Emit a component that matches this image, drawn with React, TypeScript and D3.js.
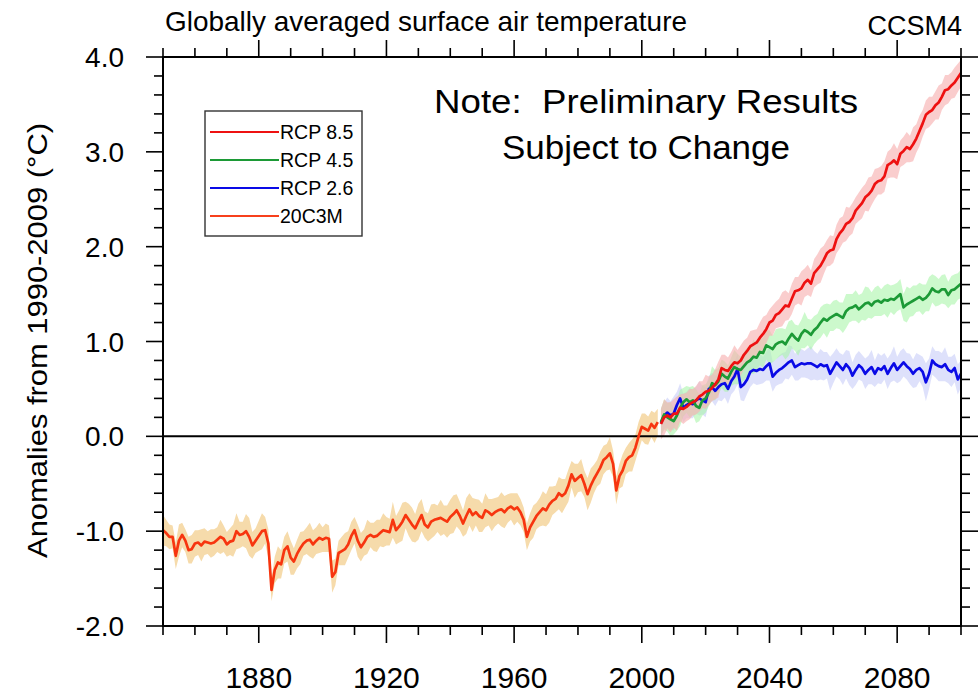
import React from "react";
import * as d3 from "d3";

const W = 980;
const H = 693;
const FONT = "'Liberation Sans', Arial, Helvetica, sans-serif";

// ---- data -------------------------------------------------------------
const histStart = 1850;
const hist20C3M = [
  -0.99, -1.02, -1.06, -1.06, -1.26, -1.1, -1.04, -1.1, -1.2, -1.19,
  -1.13, -1.12, -1.15, -1.11, -1.12, -1.13, -1.12, -1.09, -1.06, -1.08,
  -1.14, -1.11, -1.1, -1.0, -1.04, -1.03, -1.0, -1.06, -1.15, -1.1,
  -1.05, -1.0, -0.99, -1.13, -1.62, -1.41, -1.33, -1.35, -1.2, -1.16,
  -1.28, -1.32, -1.24, -1.18, -1.13, -1.1, -1.09, -1.14, -1.1, -1.07,
  -1.09, -1.07, -1.08, -1.48, -1.43, -1.23, -1.21, -1.19, -1.14, -1.05,
  -0.99, -1.1, -1.17, -1.12, -1.06, -1.04, -1.06, -1.05, -1.02, -0.99,
  -1.0, -1.01, -0.88, -0.99, -0.95, -0.9, -0.83, -0.88, -0.93, -0.97,
  -0.9, -0.83, -0.93, -0.96, -0.9, -0.88, -0.87, -0.86, -0.88, -0.9,
  -0.85, -0.82, -0.78, -0.84, -0.92, -0.84, -0.77, -0.83, -0.8, -0.84,
  -0.86, -0.78, -0.8, -0.83, -0.8, -0.78, -0.77, -0.8, -0.76, -0.74,
  -0.77, -0.75, -0.8, -0.88, -1.06, -0.96, -0.9, -0.84, -0.8, -0.76,
  -0.78, -0.72, -0.68, -0.66, -0.6, -0.63, -0.6, -0.52, -0.4, -0.47,
  -0.44, -0.41, -0.5, -0.61, -0.52, -0.45, -0.39, -0.33, -0.25, -0.22,
  -0.18, -0.29, -0.57, -0.42, -0.36, -0.26, -0.22, -0.2, -0.12, 0.0,
  0.1, 0.08, 0.06, 0.13, 0.09, 0.15,
];
const hist20C3MSpread = [
  0.16, 0.14, 0.13, 0.12, 0.14, 0.17, 0.13, 0.12, 0.14, 0.15,
  0.14, 0.13, 0.17, 0.14, 0.12, 0.15, 0.14, 0.13, 0.18, 0.14,
  0.13, 0.14, 0.17, 0.19, 0.14, 0.13, 0.18, 0.2, 0.14, 0.13,
  0.16, 0.19, 0.14, 0.15, 0.12, 0.14, 0.17, 0.15, 0.14, 0.16,
  0.18, 0.14, 0.15, 0.17, 0.13, 0.14, 0.18, 0.15, 0.14, 0.16,
  0.13, 0.15, 0.14, 0.17, 0.14, 0.13, 0.15, 0.17, 0.14, 0.15,
  0.14, 0.17, 0.15, 0.14, 0.18, 0.13, 0.15, 0.17, 0.14, 0.18,
  0.15, 0.14, 0.19, 0.15, 0.17, 0.2, 0.14, 0.17, 0.18, 0.15,
  0.19, 0.17, 0.14, 0.15, 0.18, 0.17, 0.14, 0.19, 0.15, 0.17,
  0.18, 0.2, 0.17, 0.15, 0.14, 0.19, 0.17, 0.18, 0.14, 0.17,
  0.15, 0.18, 0.14, 0.17, 0.15, 0.14, 0.18, 0.17, 0.15, 0.14,
  0.17, 0.15, 0.14, 0.13, 0.14, 0.15, 0.17, 0.14, 0.15, 0.18,
  0.17, 0.19, 0.15, 0.14, 0.17, 0.18, 0.15, 0.17, 0.14, 0.18,
  0.15, 0.17, 0.14, 0.17, 0.18, 0.15, 0.14, 0.17, 0.15, 0.14,
  0.17, 0.14, 0.15, 0.13, 0.17, 0.14, 0.15, 0.17, 0.14, 0.15,
  0.14, 0.16, 0.15, 0.14, 0.16, 0.14,
];

const rcpStart = 2006;
const rcp85 = [
  0.13, 0.2, 0.22, 0.2, 0.24, 0.24, 0.3, 0.29, 0.31, 0.34,
  0.36, 0.38, 0.42, 0.44, 0.47, 0.48, 0.51, 0.55, 0.6, 0.72,
  0.7, 0.69, 0.74, 0.78, 0.77, 0.8, 0.86, 0.9, 0.95, 0.97,
  0.99, 1.04, 1.08, 1.13, 1.2, 1.22, 1.28, 1.3, 1.34, 1.38,
  1.37, 1.45, 1.53, 1.54, 1.56, 1.62, 1.65, 1.61, 1.72, 1.76,
  1.8, 1.86, 1.93, 1.96, 1.97, 2.08, 2.14, 2.18, 2.24, 2.26,
  2.3, 2.38, 2.42, 2.46, 2.52, 2.55, 2.59, 2.66, 2.69, 2.7,
  2.74, 2.86, 2.88, 2.91, 2.87, 2.98, 3.01, 3.05, 3.03, 3.08,
  3.14, 3.22, 3.3, 3.39, 3.42, 3.44, 3.49, 3.52, 3.58, 3.65,
  3.66, 3.7, 3.73, 3.78, 3.83,
];
const rcp85Spread = [
  0.16, 0.19, 0.14, 0.16, 0.15, 0.18, 0.14, 0.16, 0.15, 0.16,
  0.14, 0.15, 0.16, 0.14, 0.18, 0.15, 0.14, 0.16, 0.19, 0.14,
  0.16, 0.14, 0.15, 0.18, 0.14, 0.16, 0.15, 0.14, 0.16, 0.15,
  0.14, 0.16, 0.18, 0.15, 0.14, 0.16, 0.14, 0.15, 0.18, 0.16,
  0.14, 0.16, 0.15, 0.14, 0.18, 0.15, 0.16, 0.14, 0.15, 0.16,
  0.18, 0.15, 0.14, 0.16, 0.14, 0.15, 0.16, 0.14, 0.18, 0.15,
  0.16, 0.14, 0.15, 0.16, 0.14, 0.18, 0.15, 0.16, 0.14, 0.15,
  0.16, 0.14, 0.15, 0.18, 0.16, 0.14, 0.15, 0.16, 0.14, 0.18,
  0.15, 0.16, 0.14, 0.15, 0.16, 0.14, 0.15, 0.18, 0.14, 0.16,
  0.15, 0.14, 0.16, 0.15, 0.14,
];
const rcp45 = [
  0.15, 0.23, 0.2, 0.18, 0.16, 0.22, 0.3, 0.36, 0.39, 0.36,
  0.38, 0.32, 0.3, 0.38, 0.4, 0.46, 0.56, 0.54, 0.58, 0.66,
  0.63, 0.61, 0.68, 0.73, 0.71, 0.7, 0.74, 0.78, 0.8, 0.84,
  0.83, 0.89, 0.88, 0.96, 0.94, 0.92, 0.97, 0.99, 1.0, 0.97,
  1.03, 1.08, 1.04, 1.01, 1.08, 1.12, 1.1, 1.07, 1.12, 1.15,
  1.2, 1.24, 1.22, 1.25, 1.27, 1.29, 1.27, 1.25, 1.32, 1.35,
  1.36, 1.38, 1.34, 1.37, 1.4, 1.41, 1.38, 1.42, 1.43, 1.41,
  1.44, 1.43, 1.45, 1.44, 1.47, 1.5, 1.36, 1.39, 1.41, 1.43,
  1.45, 1.47, 1.44, 1.46, 1.5, 1.56, 1.53, 1.52, 1.55, 1.55,
  1.49, 1.54, 1.55, 1.58, 1.61,
];
const rcp45Spread = [
  0.14, 0.16, 0.15, 0.18, 0.14, 0.16, 0.19, 0.15, 0.14, 0.16,
  0.15, 0.18, 0.14, 0.16, 0.15, 0.14, 0.18, 0.16, 0.14, 0.15,
  0.16, 0.14, 0.15, 0.18, 0.16, 0.14, 0.15, 0.16, 0.14, 0.18,
  0.15, 0.14, 0.16, 0.15, 0.18, 0.14, 0.16, 0.15, 0.14, 0.16,
  0.18, 0.15, 0.14, 0.16, 0.15, 0.19, 0.14, 0.16, 0.15, 0.14,
  0.16, 0.15, 0.18, 0.14, 0.16, 0.15, 0.14, 0.16, 0.18, 0.15,
  0.14, 0.16, 0.15, 0.14, 0.18, 0.16, 0.14, 0.15, 0.16, 0.14,
  0.15, 0.18, 0.14, 0.16, 0.15, 0.16, 0.14, 0.19, 0.15, 0.16,
  0.14, 0.15, 0.16, 0.14, 0.18, 0.15, 0.16, 0.14, 0.15, 0.16,
  0.14, 0.15, 0.16, 0.14, 0.15,
];
const rcp26 = [
  0.14, 0.22, 0.25, 0.22, 0.24, 0.33, 0.4, 0.3, 0.33, 0.35,
  0.34, 0.38, 0.4, 0.38, 0.36, 0.5, 0.52, 0.48, 0.52, 0.55,
  0.56, 0.5, 0.58, 0.63, 0.71, 0.52, 0.55, 0.6, 0.68, 0.7,
  0.69, 0.71, 0.7, 0.74, 0.77, 0.63, 0.67, 0.7, 0.72, 0.75,
  0.78, 0.8, 0.73, 0.75, 0.77, 0.76, 0.77, 0.77, 0.75, 0.73,
  0.76, 0.74, 0.75, 0.66, 0.72, 0.78, 0.74, 0.7, 0.76, 0.72,
  0.64, 0.7, 0.75, 0.72, 0.66, 0.7, 0.73, 0.66, 0.72, 0.7,
  0.74, 0.66, 0.72, 0.77, 0.7, 0.74, 0.78, 0.74, 0.71, 0.66,
  0.7, 0.72, 0.68, 0.57, 0.66, 0.8, 0.76, 0.74, 0.73, 0.76,
  0.7, 0.68, 0.72, 0.6, 0.66,
];
const rcp26Spread = [
  0.15, 0.14, 0.16, 0.15, 0.18, 0.14, 0.16, 0.15, 0.14, 0.16,
  0.15, 0.14, 0.18, 0.15, 0.16, 0.14, 0.15, 0.16, 0.14, 0.18,
  0.15, 0.16, 0.14, 0.15, 0.16, 0.14, 0.18, 0.15, 0.16, 0.14,
  0.15, 0.16, 0.14, 0.15, 0.18, 0.16, 0.14, 0.15, 0.16, 0.14,
  0.18, 0.15, 0.14, 0.16, 0.15, 0.14, 0.16, 0.18, 0.15, 0.14,
  0.16, 0.15, 0.14, 0.18, 0.16, 0.15, 0.14, 0.16, 0.15, 0.18,
  0.14, 0.16, 0.15, 0.14, 0.16, 0.15, 0.18, 0.14, 0.16, 0.15,
  0.14, 0.16, 0.15, 0.18, 0.14, 0.16, 0.15, 0.14, 0.16, 0.15,
  0.18, 0.14, 0.16, 0.2, 0.16, 0.15, 0.14, 0.16, 0.15, 0.18,
  0.14, 0.16, 0.15, 0.16, 0.14,
];

const xMajorTicks = [1880, 1920, 1960, 2000, 2040, 2080];
const xMajorLabels = ["1880", "1920", "1960", "2000", "2040", "2080"];
const yMajorTicks = [-2, -1, 0, 1, 2, 3, 4];
const yMajorLabels = ["-2.0", "-1.0", "0.0", "1.0", "2.0", "3.0", "4.0"];

const legendLabels = ["RCP 8.5", "RCP 4.5", "RCP 2.6", "20C3M"];

// ---- styles -----------------------------------------------------------
const series = [
  { key: "20C3M", start: histStart, values: hist20C3M, spread: hist20C3MSpread, line: "#f7350f", band: "#f6dbab" },
  { key: "RCP 2.6", start: rcpStart, values: rcp26, spread: rcp26Spread, line: "#0a0ae6", band: "rgba(200,205,248,0.6)" },
  { key: "RCP 4.5", start: rcpStart, values: rcp45, spread: rcp45Spread, line: "#1c9a36", band: "rgba(170,245,170,0.6)" },
  { key: "RCP 8.5", start: rcpStart, values: rcp85, spread: rcp85Spread, line: "#ee1111", band: "rgba(248,178,178,0.65)" },
];
const legendColors: Record<string, string> = {
  "RCP 8.5": "#ee1111",
  "RCP 4.5": "#1c9a36",
  "RCP 2.6": "#0a0ae6",
  "20C3M": "#f7401c",
};

export default function App() {
  const L = 163, R = 961, T = 57, B = 626;
  const x = d3.scaleLinear().domain([1850, 2100]).range([L, R]);
  const y = d3.scaleLinear().domain([-2, 4]).range([B, T]);

  const xMinor = d3.range(1850, 2101, 10).filter((v) => !xMajorTicks.includes(v));
  const yMinor = d3.range(-20, 41, 2).map((v) => v / 10).filter((v) => !yMajorTicks.includes(v));

  type P = { yr: number; v: number; s: number };
  const toPts = (s: (typeof series)[number]): P[] =>
    s.values.map((v, i) => ({ yr: s.start + i, v, s: s.spread[i] }));

  const lineGen = d3.line<P>().x((d) => x(d.yr)).y((d) => y(d.v));
  const areaGen = d3
    .area<P>()
    .x((d) => x(d.yr))
    .y0((d) => y(d.v - d.s))
    .y1((d) => y(d.v + d.s));

  const majorLen = 17;
  const minorLen = 9;

  return (
    <svg
      width={W}
      height={H}
      viewBox={`0 0 ${W} ${H}`}
      style={{ position: "absolute", left: 0, top: 0, background: "#fff" }}
      fontFamily={FONT}
    >
      <defs>
        <clipPath id="plot">
          <rect x={L} y={T} width={R - L} height={B - T} />
        </clipPath>
      </defs>
      <rect x={0} y={0} width={W} height={H} fill="#fff" />

      {/* bands */}
      <g clipPath="url(#plot)">
        {series.map((s) => (
          <path key={s.key + "-band"} d={areaGen(toPts(s)) || ""} fill={s.band} stroke="none" />
        ))}
      </g>

      {/* zero line */}
      <line x1={L} x2={R} y1={y(0)} y2={y(0)} stroke="#000" strokeWidth={2} />

      {/* lines */}
      <g clipPath="url(#plot)">
        {series.map((s) => (
          <path
            key={s.key + "-line"}
            d={lineGen(toPts(s)) || ""}
            fill="none"
            stroke={s.line}
            strokeWidth={2.7}
            strokeLinejoin="round"
          />
        ))}
      </g>

      {/* frame */}
      <rect x={L} y={T} width={R - L} height={B - T} fill="none" stroke="#000" strokeWidth={2} />

      {/* ticks */}
      <g stroke="#000" strokeWidth={1.6}>
        {xMajorTicks.map((t) => (
          <g key={"xM" + t}>
            <line x1={x(t)} x2={x(t)} y1={B} y2={B + majorLen} />
            <line x1={x(t)} x2={x(t)} y1={T} y2={T - majorLen} />
          </g>
        ))}
        {xMinor.map((t) => (
          <g key={"xm" + t}>
            <line x1={x(t)} x2={x(t)} y1={B} y2={B + minorLen} />
            <line x1={x(t)} x2={x(t)} y1={T} y2={T - minorLen} />
          </g>
        ))}
        {yMajorTicks.map((t) => (
          <g key={"yM" + t}>
            <line x1={L} x2={L - majorLen} y1={y(t)} y2={y(t)} />
            <line x1={R} x2={R + majorLen} y1={y(t)} y2={y(t)} />
          </g>
        ))}
        {yMinor.map((t) => (
          <g key={"ym" + t}>
            <line x1={L} x2={L - minorLen} y1={y(t)} y2={y(t)} />
            <line x1={R} x2={R + minorLen} y1={y(t)} y2={y(t)} />
          </g>
        ))}
      </g>

      {/* tick labels */}
      {xMajorTicks.map((t, i) => (
        <text key={"xl" + t} x={x(t)} y={688} fontSize={30} textAnchor="middle" fill="#000">
          {xMajorLabels[i]}
        </text>
      ))}
      {yMajorTicks.map((t, i) => (
        <text key={"yl" + t} x={124} y={y(t) + 10} fontSize={28} textAnchor="end" fill="#000">
          {yMajorLabels[i]}
        </text>
      ))}

      {/* axis title */}
      <text
        transform={`translate(47, ${(T + B) / 2 - 1}) rotate(-90)`}
        fontSize={28}
        textAnchor="middle"
        textLength={435}
        lengthAdjust="spacingAndGlyphs"
        fill="#000"
      >
        Anomalies from 1990-2009 (°C)
      </text>

      {/* titles */}
      <text x={165} y={31} fontSize={28} textLength={522} lengthAdjust="spacingAndGlyphs" fill="#000">
        Globally averaged surface air temperature
      </text>
      <text x={962} y={35} fontSize={27} textAnchor="end" fill="#000">
        CCSM4
      </text>

      {/* note */}
      <text
        x={646}
        y={113}
        fontSize={33}
        textAnchor="middle"
        textLength={424}
        lengthAdjust="spacingAndGlyphs"
        fill="#000"
        style={{ whiteSpace: "pre" }}
      >
        {"Note:  Preliminary Results"}
      </text>
      <text x={646} y={159} fontSize={33} textAnchor="middle" textLength={288} lengthAdjust="spacingAndGlyphs" fill="#000">
        Subject to Change
      </text>

      {/* legend */}
      <rect x={205} y={111} width={157} height={125} fill="#fff" stroke="#333" strokeWidth={1.4} />
      {legendLabels.map((lab, i) => {
        const yy = 132 + i * 28;
        return (
          <g key={lab}>
            <line x1={210} x2={279} y1={yy} y2={yy} stroke={legendColors[lab]} strokeWidth={2.2} />
            <text x={280} y={yy + 7} fontSize={19.5} fill="#000">
              {lab}
            </text>
          </g>
        );
      })}
    </svg>
  );
}
